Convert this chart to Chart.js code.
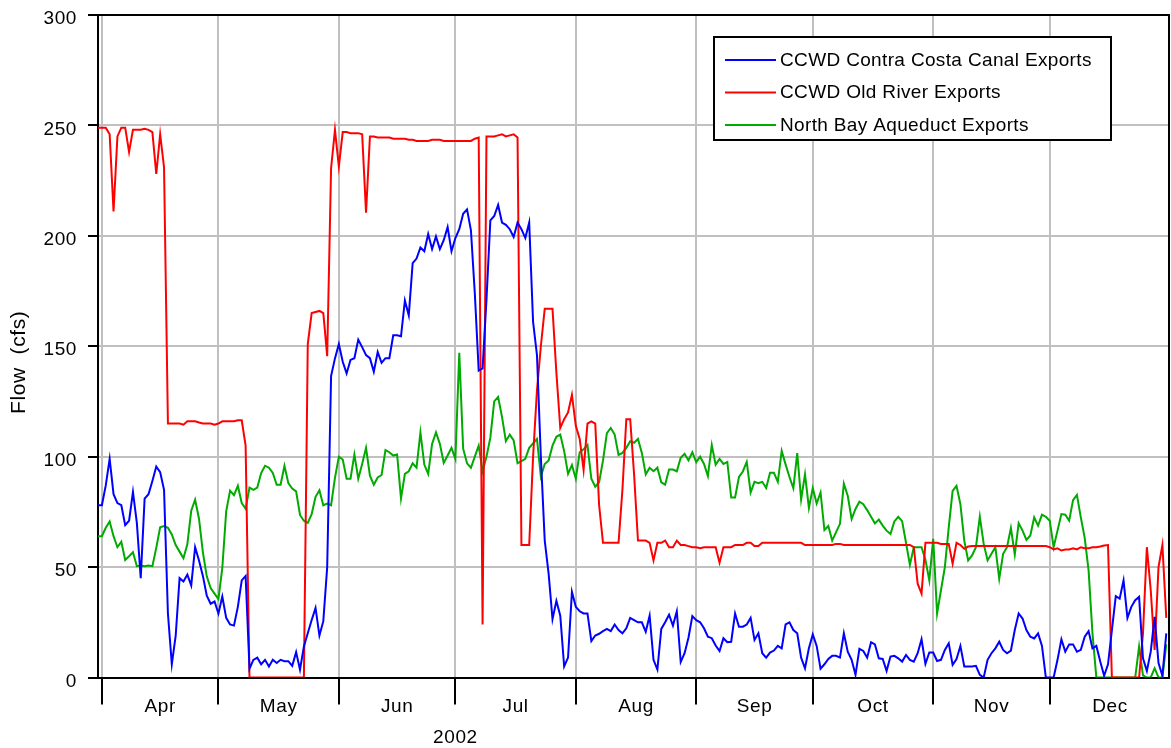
<!DOCTYPE html>
<html>
<head>
<meta charset="utf-8">
<script src="https://cdn.jsdelivr.net/npm/chart.js@4.4.1/dist/chart.umd.min.js"></script>
<style>
html,body{margin:0;padding:0;background:#fff;}
canvas{display:block;}
</style>
</head>
<body>
<canvas id="c" width="1171" height="748"></canvas>
<script>
// ---------- DATA ----------
const seriesLabels = ['CCWD Contra Costa Canal Exports', 'CCWD Old River Exports', 'North Bay Aqueduct Exports'];
const monthNames = ['Apr', 'May', 'Jun', 'Jul', 'Aug', 'Sep', 'Oct', 'Nov', 'Dec'];
const monthStartDays = [0, 30, 61, 91, 122, 153, 183, 214, 244]; // days after 1 Apr 2002
const monthLengths = [30, 31, 30, 31, 31, 30, 31, 30, 31];
const yearLabel = '2002';
const yearLabelDay = 91;
const yTickValues = [0, 50, 100, 150, 200, 250, 300];
const yTitle = 'Flow  (cfs)';
const firstDay = -1; // 31 Mar 2002; one value per day through 31 Dec 2002

const canalExports = [
  78,78,87,99,83,79,78,69,71,84,            // -1..8
  70,45,81,83,89,95.5,93,85,29,6,           // 9..18
  19,45,43.5,46.6,41.7,59,53,46,37,33.4,    // 19..28
  34.4,29,36.7,27,24,23.5,32,44,46,4,       // 29..38
  8,9,6,8,5,8,6.6,8,7.4,7.4,                // 39..48
  5.3,11.5,3.5,14,20,26,31.5,19,25.5,50,    // 49..58
  136.5,144.5,151,143,137.7,143.8,144.6,153,149.6,146,
  144.6,138.5,147.4,142.5,144.6,144.6,155,155,154.5,170.7,
  164,187.6,189.7,194.7,193,200.8,194,199.7,194,198,
  204,193,199,203,210,212,202.5,174,139,140,
  171,207,209,214,206,205,203,199.5,206,203,
  199,206,161,146,100,62,47,26.4,34.7,28,
  5,9,38.8,32,30,29,29,16.5,19,19.8,
  21,22,21,24,21.5,20,22.3,27,26,25,
  25,20.7,28,8,3.6,22,25,28.4,23.5,30,
  7,11,18,27.8,26,25,22.3,18.5,17.8,14.5,
  12,17.8,16,16.2,29,23,23,24,27,17,
  20,11,9,11.3,12.2,14.3,13.2,24,25,21.5,
  20,9,4.2,13.2,19.5,14.3,4,6,8.4,9.8,
  9.8,9,20,11.7,8,1.2,13,12,9,16,
  15,8.7,8.4,3,9.5,9.8,8.7,7.2,10.2,8,
  7.2,11,17.3,6.2,11.3,11.3,7.5,8,12.5,15.5,
  5.7,8.3,14.3,5,5,5,5.3,1.2,0,8,
  11,13.2,16.2,12.5,11,12.2,21.5,29,26.7,21.5,
  18.5,17.7,20,14.3,0,0,0,8,17.3,11.7,
  15,15,11.7,12.5,18.5,21,13.2,14.3,7.2,0.8,
  6,21.5,36.8,35.7,44,27,32,35,36.5,8.7,
  3,11.7,27.5,6.5,0.8,20                    // 269..274
];

const oldRiverExports = [
  249,249,249,246,211,245,249,249,238,248,
  248,248,248.5,248,247,228,246,231,115,115,
  115,115,114.5,116,116,116,115.5,115,115,115,
  114.5,115,116,116,116,116,116.5,116.5,105,0,
  0,0,0,0,0,0,0,0,0,0,
  0,0,0,0,151,165,165.5,166,165,145.5,
  230.6,248,231.4,247,247,246.5,246.5,246.5,246,210.5,
  245,245,244.5,244.5,244.5,244.5,244,244,244,244,
  243.5,243.5,243,243,243,243,243.5,243.5,243.5,243,
  243,243,243,243,243,243,243,244,244.5,24,
  245,245,245,245.5,246,245,245.5,246,244.5,60,
  60,60,100,130,150,167,167,167,138,113,
  117,120,128,114,108,94,115,116,115,78,
  61,61,61,61,61,85,117,117,92,62,
  62,62,61,53,61,61,62,59,59,62,
  60,60,59.5,59,59,58.5,59,59,59,59,
  52,59,59,59,60,60,60,61,61,59.5,
  59.5,61,61,61,61,61,61,61,61,61,
  61,61,60,60,60,60,60,60,60,60,
  60.5,60.5,60,60,60,60,60,60,60,60,
  60,60,60,60,60,60,60,60,60,60,
  59,42.5,38,61,61,61,61,60.5,60.5,60.5,
  51.5,61,60,58.3,59.3,59.5,59.5,59.5,59.5,59.5,
  59.5,59.5,59.5,59.5,59.5,59.5,59.5,59.5,59.5,59.5,
  59.5,59.5,59.5,59.5,59.5,59,58,58.5,57.5,58,
  58,58.5,58,59,58.5,58.5,59,59,59.3,59.8,
  60,0,0,0,0,0,0,0,0,20,
  59,39.5,12.5,50,60,27
];

const northBayExports = [
  64,64,67.8,70.6,64,59,61.5,53.2,54.9,56.7,
  50.4,50.7,50.4,50.7,50.4,58.7,68,68.6,67.8,64.8,
  60,57,54,60.3,75.5,80.5,71.9,56.7,45.8,40.5,
  38,35.5,49.6,75.2,84.6,82.6,86.8,79,76.4,86,
  85,86,92.6,95.9,95,92.6,87.3,87.3,95.9,88,
  85.6,84.3,73.6,71,70,74,81.8,84.8,78,78.8,
  78,90.4,100,98.7,90,90,101,90,96.7,104,
  91.4,87.3,90.6,91.7,103,102,100.5,101,81,92.2,
  93.4,97,95,111,96.4,92.2,105.8,111,105.8,97.2,
  100.5,104,99,147,103.6,97,95,100,105,93.4,
  100,108.6,125,127,118,107,110,107.4,97,98,
  99,104,106,108,91,96.7,98.3,105,109,110,
  102.5,92.2,96.2,90,102,103.3,105.3,90,86.4,88.4,
  98.3,110.7,113,110,100.8,101.7,104,107,106.3,108,
  101.7,92,95,93.4,95,88.4,87.3,94.2,94.2,93.4,
  99.5,101.3,98.3,102,97.5,100,96.7,91.2,105.3,96.4,
  99,96.7,97.6,81.5,81.5,90.8,93.3,97.6,83.8,88.6,
  88,88.6,85.8,92.7,92.7,88.6,102.6,96.5,90.8,85.7,
  101.6,80.6,92,76.8,85.8,78.8,83.8,66.8,68.6,62,
  65.8,69.6,87.8,82.3,71.8,76.3,79.6,78.5,75.8,72.8,
  69.8,71.5,68.8,66.5,65,70.7,72.8,70.8,61,51,
  59,59,59,53.3,44,62.8,29,39.5,50,68,
  84.5,86.8,78.5,62,53,55.3,59,72.8,60.5,53,
  56,59,44.7,56,59,67.7,55.7,69.8,66.5,62.3,
  64.3,72.5,68.8,73.7,72.8,71,59,66.5,74,73.7,
  71,80.3,82.7,72.5,63.2,48.5,20,0,0,0,
  0,0,0,0,0,0,0,0,14,1,
  0,0,4.2,0,0,15
];

// ---------- CHART ----------
const FONT = "'Liberation Sans', Arial, Helvetica, sans-serif";
Chart.defaults.font.family = FONT;
Chart.defaults.font.size = 19;
Chart.defaults.color = '#000';

const toPoints = arr => arr.map((v, i) => ({ x: firstDay + i, y: v }));
const boundarySet = new Set(monthStartDays);
const midDays = monthStartDays.map((s, i) => s + monthLengths[i] / 2);
const xTickValues = monthStartDays.concat(midDays).sort((a, b) => a - b);
const X_MIN = firstDay, X_MAX = 274.7;

const spacingPlugin = {
  id: 'spacing',
  beforeDraw(chart) { try { chart.ctx.letterSpacing = '0.6px'; } catch (e) {} }
};

const framePlugin = {
  id: 'frame',
  afterDatasetsDraw(chart) {
    const { ctx, chartArea: a } = chart;
    ctx.save();
    ctx.strokeStyle = '#000';
    ctx.lineWidth = 2;
    ctx.beginPath();
    ctx.moveTo(a.left, a.top);
    ctx.lineTo(a.right, a.top);
    ctx.lineTo(a.right, a.bottom);
    ctx.stroke();
    ctx.restore();
  }
};

const boxLegendPlugin = {
  id: 'boxLegend',
  afterDraw(chart) {
    const ctx = chart.ctx;
    const box = { x: 714, y: 37, w: 397, h: 103 };
    ctx.save();
    ctx.fillStyle = '#fff';
    ctx.fillRect(box.x, box.y, box.w, box.h);
    ctx.strokeStyle = '#000';
    ctx.lineWidth = 2;
    ctx.strokeRect(box.x, box.y, box.w, box.h);
    ctx.font = '19px ' + FONT;
    try { ctx.letterSpacing = '0.35px'; } catch (e) {}
    ctx.textBaseline = 'middle';
    ctx.textAlign = 'left';
    chart.data.datasets.forEach((ds, i) => {
      const yy = box.y + 23 + i * 32.5;
      ctx.strokeStyle = ds.borderColor;
      ctx.lineWidth = 2;
      ctx.beginPath();
      ctx.moveTo(box.x + 11, yy);
      ctx.lineTo(box.x + 62, yy);
      ctx.stroke();
      ctx.fillStyle = '#000';
      ctx.fillText(ds.label, box.x + 66, yy + 0.5);
    });
    ctx.restore();
  }
};

new Chart(document.getElementById('c'), {
  type: 'line',
  data: {
    datasets: [
      { label: seriesLabels[0], data: toPoints(canalExports), borderColor: '#0000ff' },
      { label: seriesLabels[1], data: toPoints(oldRiverExports), borderColor: '#ff0000' },
      { label: seriesLabels[2], data: toPoints(northBayExports), borderColor: '#00aa00' }
    ]
  },
  options: {
    responsive: false,
    animation: false,
    devicePixelRatio: 1,
    layout: { padding: { top: 15, right: 2, left: 0, bottom: 0 } },
    elements: {
      point: { radius: 0, hoverRadius: 0 },
      line: { borderWidth: 2, tension: 0, fill: false }
    },
    plugins: { legend: { display: false }, tooltip: { enabled: false } },
    scales: {
      x: {
        type: 'linear', position: 'bottom', weight: 0,
        min: X_MIN, max: X_MAX,
        afterBuildTicks: s => { s.ticks = xTickValues.map(v => ({ value: v })); },
        afterFit: s => { s.height = 48; },
        grid: {
          color: c => (c.tick && boundarySet.has(c.tick.value)) ? '#c0c0c0' : 'rgba(0,0,0,0)',
          lineWidth: 2,
          tickColor: c => (c.tick && boundarySet.has(c.tick.value)) ? '#000' : 'rgba(0,0,0,0)',
          tickLength: 27,
          tickWidth: 2
        },
        border: { display: true, color: '#000', width: 2 },
        ticks: {
          autoSkip: false, maxRotation: 0, minRotation: 0, padding: -9,
          callback: v => { const i = midDays.indexOf(v); return i >= 0 ? monthNames[i] : ''; }
        }
      },
      x2: {
        type: 'linear', position: 'bottom', weight: 1,
        min: X_MIN, max: X_MAX,
        afterBuildTicks: s => { s.ticks = [{ value: yearLabelDay }]; },
        afterFit: s => { s.height = 22.5; },
        grid: { display: false, drawTicks: false },
        border: { display: false },
        ticks: { autoSkip: false, maxRotation: 0, padding: 1, callback: () => yearLabel }
      },
      y: {
        min: 0, max: 300,
        afterBuildTicks: s => { s.ticks = yTickValues.map(v => ({ value: v })); },
        afterFit: s => { s.width = 98; },
        grid: {
          color: c => (c.tick && (c.tick.value === 0 || c.tick.value === 300)) ? 'rgba(0,0,0,0)' : '#c0c0c0',
          lineWidth: 2,
          tickColor: '#000',
          tickLength: 10,
          tickWidth: 2
        },
        border: { display: true, color: '#000', width: 2 },
        ticks: { padding: 11, labelOffset: 4, font: { size: 19, lineHeight: 0.3 } },
        title: {
          display: true,
          text: yTitle + '     ',
          font: { size: 21 },
          padding: { top: 7, bottom: 0 }
        }
      }
    }
  },
  plugins: [spacingPlugin, framePlugin, boxLegendPlugin]
});
</script>
</body>
</html>
